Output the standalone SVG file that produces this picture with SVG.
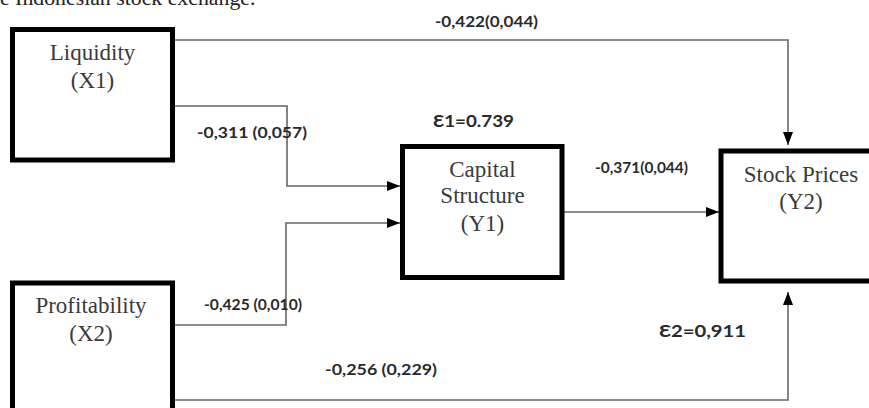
<svg xmlns="http://www.w3.org/2000/svg" width="869" height="408" viewBox="0 0 869 408">
<style>
.box{fill:#fff;stroke:#000;stroke-width:5}
.nt{font-family:"Liberation Serif","Times New Roman",serif;font-size:23px;fill:#3a3a3a;text-anchor:middle}
.lbl{font-family:Lato,"Liberation Sans",sans-serif;font-weight:bold;fill:#2a2a2a}
.s{font-size:14.5px}
.m{font-size:16px}
.l{font-size:17.5px}
.cap{font-family:"Liberation Serif","Times New Roman",serif;font-size:21.8px;fill:#222}
.edge{fill:none;stroke:#666;stroke-width:1.6}
</style>
<defs>
<marker id="arr" markerUnits="userSpaceOnUse" markerWidth="14" markerHeight="12" refX="13" refY="5" orient="auto">
<path d="M0,0 L13,5 L0,10 Z" fill="#000"/>
</marker>
</defs>
<rect width="869" height="408" fill="#fff"/>
<text class="cap" x="0" y="5">e Indonesian stock exchange.</text>
<g id="connectors">
<path class="edge" d="M175,40 H788 V145" marker-end="url(#arr)"/>
<path class="edge" d="M175,106 H287 V186 H400" marker-end="url(#arr)"/>
<path class="edge" d="M175,325 H286 V223 H400" marker-end="url(#arr)"/>
<path class="edge" d="M564,212 H719" marker-end="url(#arr)"/>
<path class="edge" d="M175,400 H788 V292" marker-end="url(#arr)"/>
</g>
<g id="node-liquidity">
<rect class="box" x="12.5" y="29.5" width="160" height="130.5"/>
<text class="nt" x="92.5" y="60">Liquidity</text>
<text class="nt" x="92.5" y="88">(X1)</text>
</g>
<g id="node-profitability">
<rect class="box" x="12.5" y="283" width="160" height="140"/>
<text class="nt" x="91" y="313">Profitability</text>
<text class="nt" x="91" y="340.5">(X2)</text>
</g>
<g id="node-capital">
<rect class="box" x="402.5" y="146.5" width="159.5" height="131"/>
<text class="nt" x="482.5" y="177">Capital</text>
<text class="nt" x="482.5" y="203">Structure</text>
<text class="nt" x="482.5" y="230.5">(Y1)</text>
</g>
<g id="node-stock">
<rect class="box" x="721" y="151" width="165" height="130"/>
<text class="nt" x="801" y="181.5">Stock Prices</text>
<text class="nt" x="801" y="209">(Y2)</text>
</g>
<g id="labels">
<text class="lbl m" x="435" y="26.5" textLength="103" lengthAdjust="spacingAndGlyphs">-0,422(0,044)</text>
<text class="lbl m" x="197" y="138" textLength="110" lengthAdjust="spacingAndGlyphs">-0,311 (0,057)</text>
<text class="lbl l" x="433" y="126.5" textLength="81" lengthAdjust="spacingAndGlyphs">Ɛ1=0.739</text>
<text class="lbl s" x="595" y="173" textLength="93" lengthAdjust="spacingAndGlyphs">-0,371(0,044)</text>
<text class="lbl s" x="204" y="310" textLength="98" lengthAdjust="spacingAndGlyphs">-0,425 (0,010)</text>
<text class="lbl l" x="659" y="336.5" textLength="87" lengthAdjust="spacingAndGlyphs">Ɛ2=0,911</text>
<text class="lbl m" x="325" y="375" textLength="112" lengthAdjust="spacingAndGlyphs">-0,256 (0,229)</text>
</g>
</svg>
